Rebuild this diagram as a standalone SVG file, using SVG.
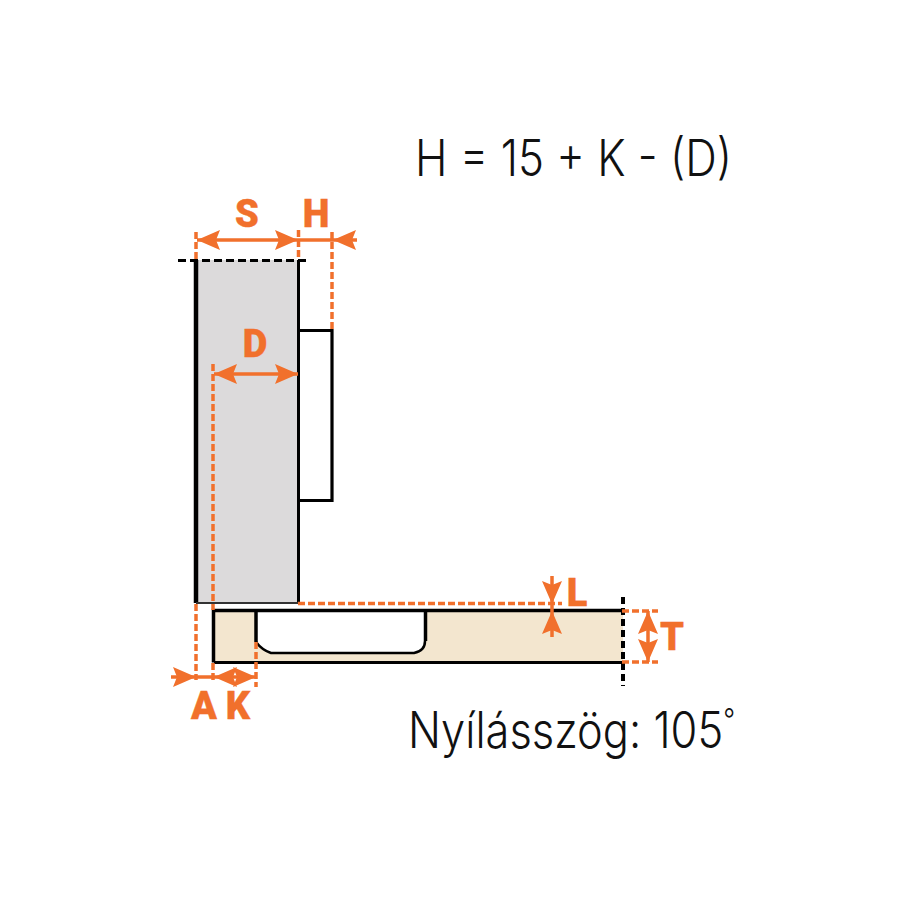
<svg xmlns="http://www.w3.org/2000/svg" width="900" height="900" viewBox="0 0 900 900">
<style>
.k{fill:none;stroke:#000;stroke-width:3.5}
.o{fill:none;stroke:#f1702c;stroke-width:3.5}
.d{fill:none;stroke:#f1702c;stroke-width:3.5;stroke-dasharray:7 3}
.h{fill:#f1702c}
.t{font-family:Inter,Roboto,"Liberation Sans",sans-serif;font-weight:300;font-size:50px;fill:#111}
.l{font-family:Roboto,"Liberation Sans",sans-serif;font-weight:900;font-size:38px;fill:#f1702c;stroke:#f1702c;stroke-width:.4;text-anchor:middle}
</style>
<defs>
<path id="a" d="M0 0L23 -10L19 0L23 10Z"/>
</defs>
<g id="door-panel">
<rect x="196" y="260" width="102.500" height="343" fill="#dcdadb"/>
<path class="k" d="M196 260V603" style="stroke-width:4.500"/>
<path class="k" d="M298.500 260V603" style="stroke-width:3"/>
<path d="M196 603H298.500" stroke="#333" stroke-width="2" fill="none"/>
<path d="M178 260.500H307" stroke="#000" stroke-width="3" stroke-dasharray="8 4" fill="none"/>
</g>
<g id="hinge-plate">
<path class="k" d="M298.500 330.500H332V500.500H298.500" style="stroke-width:3.200"/>
</g>
<g id="cabinet-side">
<rect x="214" y="611" width="409" height="51" fill="#f3e6cf"/>
<path d="M256 611V642Q262 650 271 653H414Q425 651 425 641V611Z" fill="#fff"/>
<path class="k" d="M213.500 662.500V610.500H623" style="stroke-width:3.500"/>
<path class="k" d="M214 662.500H623" style="stroke-width:3"/>
<path class="k" d="M256 611V642"/>
<path class="k" d="M256 642Q262 650 271 653H414Q425 651 425 641" style="stroke-width:2.500"/>
<path class="k" d="M425.500 611V641"/>
<path d="M623 597V686" stroke="#000" stroke-width="4" stroke-dasharray="7 4" fill="none"/>
</g>
<g id="connectors">
<path class="d" d="M196 232V260M298.500 230V259M332 232V330M213 364V610M196 604V680M213 663V680M256 642V687M298 603.500H562M622 611H658M622 662H658"/>
<path class="o" d="M197 240H357M214 374H298M171 677H256M552 576V637M648 611V662"/>
<g class="h">
<use href="#a" transform="translate(197,240)"/>
<use href="#a" transform="translate(298,240) rotate(180)"/>
<use href="#a" transform="translate(333,240)"/>
<use href="#a" transform="translate(214,374)"/>
<use href="#a" transform="translate(298,374) rotate(180)"/>
<use href="#a" transform="translate(196,677) rotate(180)"/>
<use href="#a" transform="translate(214,677)"/>
<use href="#a" transform="translate(256,677) rotate(180)"/>
<use href="#a" transform="translate(552,604) rotate(-90)"/>
<use href="#a" transform="translate(552,611) rotate(90)"/>
<use href="#a" transform="translate(648,611) rotate(90)"/>
<use href="#a" transform="translate(648,662) rotate(-90)"/>
</g>
</g>
<g id="labels">
<text class="t" x="415" y="176" textLength="317" lengthAdjust="spacingAndGlyphs">H = 15 + K - (D)</text>
<text class="t" x="408" y="748" textLength="327" lengthAdjust="spacingAndGlyphs">Nyílásszög: 105<tspan dy="-18" style="font-size:30px">°</tspan></text>
<text class="l" x="247" y="227">S</text>
<text class="l" x="316" y="227">H</text>
<text class="l" x="255" y="357">D</text>
<text class="l" x="204" y="719">A</text>
<text class="l" x="238" y="719">K</text>
<text class="l" x="577" y="606">L</text>
<text class="l" x="672" y="650">T</text>
</g>
</svg>
